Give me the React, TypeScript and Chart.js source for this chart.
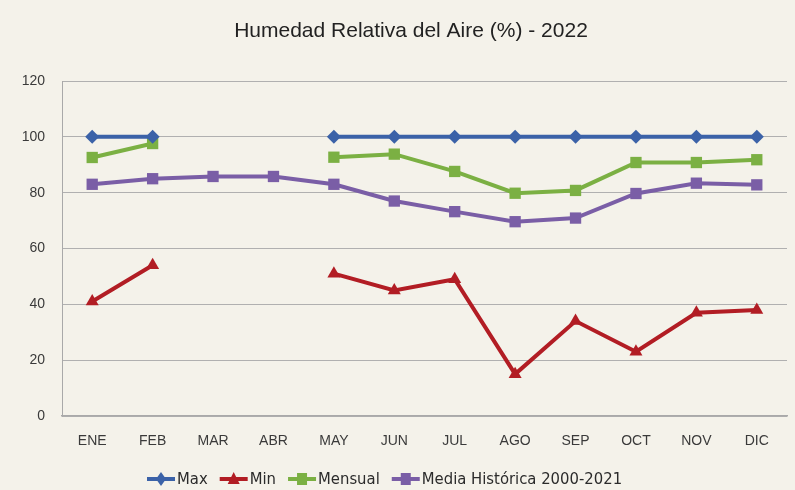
import React, { useEffect, useRef } from 'react';
import { Chart, registerables } from 'chart.js';

Chart.register(...registerables);

const months = ['ENE', 'FEB', 'MAR', 'ABR', 'MAY', 'JUN', 'JUL', 'AGO', 'SEP', 'OCT', 'NOV', 'DIC'];
const maxValues = [100, 100, null, null, 100, 100, 100, 100, 100, 100, 100, 100];
const minValues = [41, 54, null, null, 51, 45, 49, 15, 34, 23, 37, 38];
const mensualValues = [92.6, 97.6, null, null, 92.7, 93.8, 87.6, 79.8, 80.8, 90.8, 90.8, 91.8];
const mediaValues = [83, 85, 85.8, 85.8, 83, 77, 73.2, 69.6, 70.9, 79.7, 83.4, 82.8];
const yTicks = [0, 20, 40, 60, 80, 100, 120];

const TITLE = 'Humedad Relativa del Aire (%) - 2022';
const BG = '#f4f2ea';
const BLUE = '#3b62a8';
const RED = '#b21d24';
const GREEN = '#7bb043';
const PURPLE = '#7a5ea6';
const LEGEND_FONT = '16.5px "Liberation Sans Narrow", "DejaVu Sans Condensed", Arial, sans-serif';

function drawMarker(ctx: CanvasRenderingContext2D, style: string, cx: number, cy: number) {
  ctx.beginPath();
  if (style === 'rectRot') {
    ctx.moveTo(cx, cy - 7);
    ctx.lineTo(cx + 5, cy);
    ctx.lineTo(cx, cy + 7);
    ctx.lineTo(cx - 5, cy);
  } else if (style === 'triangle') {
    ctx.moveTo(cx, cy - 7);
    ctx.lineTo(cx + 6, cy + 5);
    ctx.lineTo(cx - 6, cy + 5);
  } else {
    ctx.rect(cx - 5, cy - 6, 10, 12);
  }
  ctx.closePath();
  ctx.fill();
}

const titlePlugin = {
  id: 'customTitle',
  afterDraw(chart: any) {
    const ctx = chart.ctx;
    ctx.save();
    ctx.font = '21px "Liberation Sans", Arial, sans-serif';
    ctx.fillStyle = '#222222';
    ctx.textAlign = 'center';
    ctx.textBaseline = 'middle';
    ctx.fillText(TITLE, 411, 31);
    ctx.restore();
  },
};

const legendPlugin = {
  id: 'customLegend',
  afterDraw(chart: any) {
    const ctx: CanvasRenderingContext2D = chart.ctx;
    ctx.save();
    ctx.font = LEGEND_FONT;
    ctx.textBaseline = 'middle';
    ctx.textAlign = 'left';
    let x = 147;
    const y = 479;
    chart.data.datasets.forEach((ds: any) => {
      ctx.strokeStyle = ds.borderColor;
      ctx.fillStyle = ds.borderColor;
      ctx.lineWidth = 4;
      ctx.beginPath();
      ctx.moveTo(x, y);
      ctx.lineTo(x + 28, y);
      ctx.stroke();
      drawMarker(ctx, ds.pointStyle, x + 14, y);
      ctx.fillStyle = '#2b2b2b';
      ctx.fillText(ds.label, x + 30, y + 1);
      x += 30 + ctx.measureText(ds.label).width + 12;
    });
    ctx.restore();
  },
};

export default function App() {
  const ref = useRef<HTMLCanvasElement | null>(null);
  useEffect(() => {
    if (!ref.current) return;
    const mk = (label: string, data: (number | null)[], color: string, pointStyle: any, r: number) => ({
      label,
      data,
      borderColor: color,
      backgroundColor: color,
      borderWidth: 4,
      pointStyle,
      pointRadius: r,
      pointHoverRadius: r,
      pointBorderWidth: 0,
      spanGaps: false,
      tension: 0,
    });
    const chart = new Chart(ref.current, {
      type: 'line',
      data: {
        labels: months,
        datasets: [
          mk('Max', maxValues, BLUE, 'rectRot', 7),
          mk('Min', minValues, RED, 'triangle', 7.5),
          mk('Mensual', mensualValues, GREEN, 'rect', 8),
          mk('Media Histórica 2000-2021', mediaValues, PURPLE, 'rect', 8),
        ],
      },
      plugins: [titlePlugin, legendPlugin],
      options: {
        animation: false,
        responsive: false,
        events: [],
        layout: { padding: { top: 81, right: 8, left: 0, bottom: 0 } },
        plugins: {
          title: { display: false },
          tooltip: { enabled: false },
          legend: { display: false },
        },
        scales: {
          x: {
            offset: true,
            grid: { display: false, drawTicks: false, offset: true },
            border: { display: true, color: '#a9a9a9', width: 1.5 },
            ticks: {
              color: '#3a3a3a',
              padding: 17,
              font: { family: '"Liberation Sans", Arial, sans-serif', size: 14 },
            },
            afterFit: (s: any) => {
              s.height = 74;
            },
          },
          y: {
            min: 0,
            max: 120,
            afterBuildTicks: (s: any) => {
              s.ticks = yTicks.map((v) => ({ value: v }));
            },
            grid: { color: '#b0b0b0', lineWidth: 1, drawTicks: false },
            border: { display: true, color: '#a9a9a9', width: 1 },
            ticks: {
              color: '#3a3a3a',
              padding: 17,
              font: { family: '"Liberation Sans", Arial, sans-serif', size: 14 },
            },
            afterFit: (s: any) => {
              s.width = 62;
            },
          },
        },
      },
    });
    return () => chart.destroy();
  }, []);
  return (
    <div style={{ position: 'fixed', left: 0, top: 0, width: 795, height: 490, background: BG }}>
      <canvas ref={ref} width={795} height={490} style={{ display: 'block' }} />
    </div>
  );
}
